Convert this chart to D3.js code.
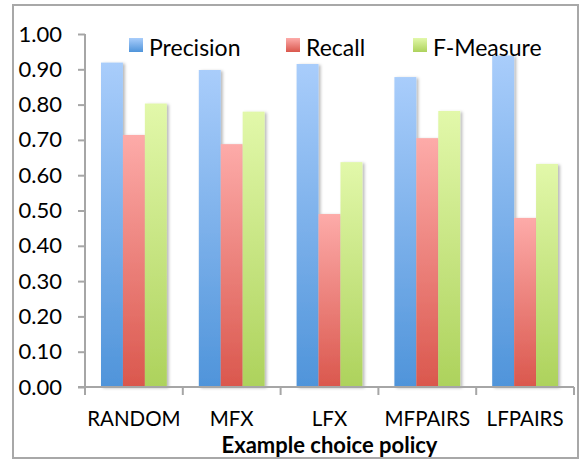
<!DOCTYPE html>
<html>
<head>
<meta charset="utf-8">
<script src="https://cdn.jsdelivr.net/npm/d3@7"></script>
<style>
  html, body { margin: 0; padding: 0; background: #fff; }
  svg { display: block; }
  text { font-family: Lato, "Open Sans", sans-serif; fill: #000; }
</style>
</head>
<body>
<div id="chart"></div>
<script>
// Scores of each example choice policy
const categories = ["RANDOM", "MFX", "LFX", "MFPAIRS", "LFPAIRS"];
const seriesNames = ["Precision", "Recall", "F-Measure"];
const precision = [0.919, 0.898, 0.915, 0.878, 0.939];
const recall    = [0.714, 0.688, 0.490, 0.705, 0.479];
const fMeasure  = [0.803, 0.780, 0.637, 0.782, 0.632];
const yTicks = [0, 0.1, 0.2, 0.3, 0.4, 0.5, 0.6, 0.7, 0.8, 0.9, 1.0];
const xTitle = "Example choice policy";

const seriesValues = [precision, recall, fMeasure];
const gradients = [
  { id: "g-prec", top: "#a9cdfb", bottom: "#4f94da" },
  { id: "g-rec",  top: "#fdaba9", bottom: "#da574d" },
  { id: "g-fm",   top: "#e2f8aa", bottom: "#add25c" }
];

const W = 585, H = 460;
const plot = { left: 85, right: 574, top: 34, bottom: 387 };

const svg = d3.select("#chart").append("svg")
  .attr("width", W).attr("height", H);

const defs = svg.append("defs");
gradients.forEach(g => {
  const lg = defs.append("linearGradient")
    .attr("id", g.id).attr("x1", 0).attr("y1", 0).attr("x2", 0).attr("y2", 1);
  lg.append("stop").attr("offset", "0%").attr("stop-color", g.top);
  lg.append("stop").attr("offset", "100%").attr("stop-color", g.bottom);
});
const shadow = defs.append("filter").attr("id", "shadow")
  .attr("x", "-20%").attr("y", "-5%").attr("width", "160%").attr("height", "115%");
shadow.append("feDropShadow")
  .attr("dx", 2).attr("dy", 1).attr("stdDeviation", 1.6)
  .attr("flood-color", "#000").attr("flood-opacity", 0.28);
const lineShadow = defs.append("filter").attr("id", "lineShadow")
  .attr("x", 0).attr("y", "-200%").attr("width", "100%").attr("height", "500%");
lineShadow.append("feDropShadow")
  .attr("dx", 0).attr("dy", 1).attr("stdDeviation", 0.6)
  .attr("flood-color", "#000").attr("flood-opacity", 0.25);

// outer frame
svg.append("rect")
  .attr("x", 13).attr("y", 5).attr("width", 565).attr("height", 453)
  .attr("fill", "#fff").attr("stroke", "#a8a8a8").attr("stroke-width", 2);

const y = d3.scaleLinear().domain([0, 1]).range([plot.bottom, plot.top]);
const x0 = d3.scaleBand().domain(categories).range([plot.left, plot.right]).padding(0);
const x1 = d3.scaleBand().domain(seriesNames)
  .range([16, x0.bandwidth() - 16]).padding(0);

// horizontal gridlines
svg.append("g").selectAll("line")
  .data(yTicks.filter(t => t > 0))
  .join("line")
  .attr("x1", plot.left).attr("x2", plot.right)
  .attr("y1", d => y(d)).attr("y2", d => y(d))
  .attr("stroke", "#9c9c9c").attr("stroke-width", 2)
  .attr("filter", "url(#lineShadow)");

// y axis
const yAxis = d3.axisLeft(y).tickValues(yTicks).tickFormat(d3.format(".2f"))
  .tickSize(7).tickPadding(16);
const gy = svg.append("g").attr("transform", `translate(${plot.left},0)`).call(yAxis);
gy.select(".domain").attr("stroke", "#a6a6a6").attr("stroke-width", 2)
  .attr("d", `M0,${plot.top}V${plot.bottom}`);
gy.selectAll(".tick line").attr("stroke", "#a6a6a6").attr("stroke-width", 2);
gy.selectAll(".tick text").style("font-size", "22px").style("font-family", "Lato, sans-serif")
  .attr("fill", "#000");

// bars
const groups = svg.append("g").selectAll("g")
  .data(categories)
  .join("g")
  .attr("transform", d => `translate(${x0(d)},0)`);

groups.selectAll("rect")
  .data((c, i) => seriesNames.map((s, k) => ({ s, k, v: seriesValues[k][i] })))
  .join("rect")
  .attr("x", d => x1(d.s))
  .attr("width", x1.bandwidth())
  .attr("y", d => y(d.v))
  .attr("height", d => y(0) - y(d.v))
  .attr("fill", d => `url(#${gradients[d.k].id})`)
  .attr("filter", "url(#shadow)");

// x axis
const xAxis = d3.axisBottom(x0).tickSize(0).tickPadding(24);
const gx = svg.append("g").attr("transform", `translate(0,${plot.bottom})`).call(xAxis);
gx.select(".domain").attr("stroke", "#a6a6a6").attr("stroke-width", 2)
  .attr("d", `M${plot.left - 7},0H${plot.right}`);
gx.selectAll(".tick text").style("font-size", "20.5px").style("font-family", "Lato, sans-serif")
  .attr("fill", "#000");
// category separators
gx.append("g").selectAll("line")
  .data(categories.map(c => x0(c)).concat([plot.right]))
  .join("line")
  .attr("x1", d => d).attr("x2", d => d)
  .attr("y1", 0).attr("y2", 8)
  .attr("stroke", "#a6a6a6").attr("stroke-width", 2);

// axis title
svg.append("text")
  .attr("x", (plot.left + plot.right) / 2).attr("y", 453)
  .attr("text-anchor", "middle")
  .style("font-size", "22px").style("font-weight", "bold")
  .text(xTitle);

// legend
const legendX = [129, 286, 413];
const legend = svg.append("g").selectAll("g")
  .data(seriesNames)
  .join("g")
  .attr("transform", (d, i) => `translate(${legendX[i]},38)`);
legend.append("rect")
  .attr("width", 14).attr("height", 14)
  .attr("fill", (d, i) => `url(#${gradients[i].id})`);
legend.append("text")
  .attr("x", 20).attr("y", 18)
  .style("font-size", "23px")
  .text(d => d);
</script>
</body>
</html>
